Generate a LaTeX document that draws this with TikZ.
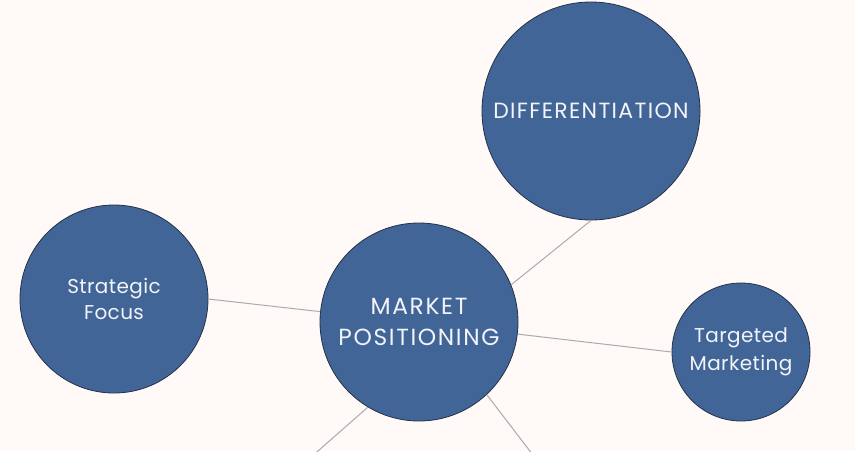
\documentclass[tikz,border=0pt]{standalone}
\usepackage{fontspec}
\setmainfont{Poppins}
\usepackage{tikz}
\usetikzlibrary{calc,positioning}
\definecolor{bgpaper}{HTML}{FFF9F7}
\definecolor{bubblefill}{HTML}{426597}
\definecolor{bubbleedge}{HTML}{22324A}
\definecolor{linkgray}{HTML}{ABABAB}
\definecolor{bubbletext}{HTML}{F2F4F8}

\begin{document}
\begin{tikzpicture}[x=0.75pt,y=-0.75pt,
    bubble/.style={circle,fill=bubblefill,draw=bubbleedge,line width=0.6pt,
        text=bubbletext,align=center,inner sep=0pt},
    link/.style={draw=linkgray,line width=0.75pt}]
    % Canvas
    \fill[bgpaper] (0,0) rectangle (855,451);
    \useasboundingbox (0,0) rectangle (855,451);
    \clip (0,0) rectangle (855,451);

    % Bubbles
    \node[bubble,minimum size=148.5pt,font=\fontsize{17.5}{23}\selectfont\addfontfeature{LetterSpace=7}] (mp) at (419,322) {MARKET\\POSITIONING};
    \node[bubble,minimum size=163.5pt,font=\fontsize{16.5}{18}\selectfont\addfontfeature{LetterSpace=6}] (diff) at (591,111) {DIFFERENTIATION};
    \node[bubble,minimum size=141pt,font=\fontsize{15}{20}\selectfont\addfontfeature{LetterSpace=2}] (focus) at (114,299) {Strategic\\Focus};
    \node[bubble,minimum size=103.5pt,font=\fontsize{15}{21}\selectfont\addfontfeature{LetterSpace=2}] (target) at (741,352) {Targeted\\Marketing};

    % Loose ends below the picture
    \coordinate (downleft) at (310,458);
    \coordinate (downright) at (536,459);

    % Links
    \draw[link] (focus.east) -- (mp.174);
    \draw[link] (mp.22) -- (diff.south);
    \draw[link] (mp.-7) -- (target.west);
    \draw[link] (mp.-121) -- (downleft);
    \draw[link] (mp.-47) -- (downright);
\end{tikzpicture}
\end{document}
